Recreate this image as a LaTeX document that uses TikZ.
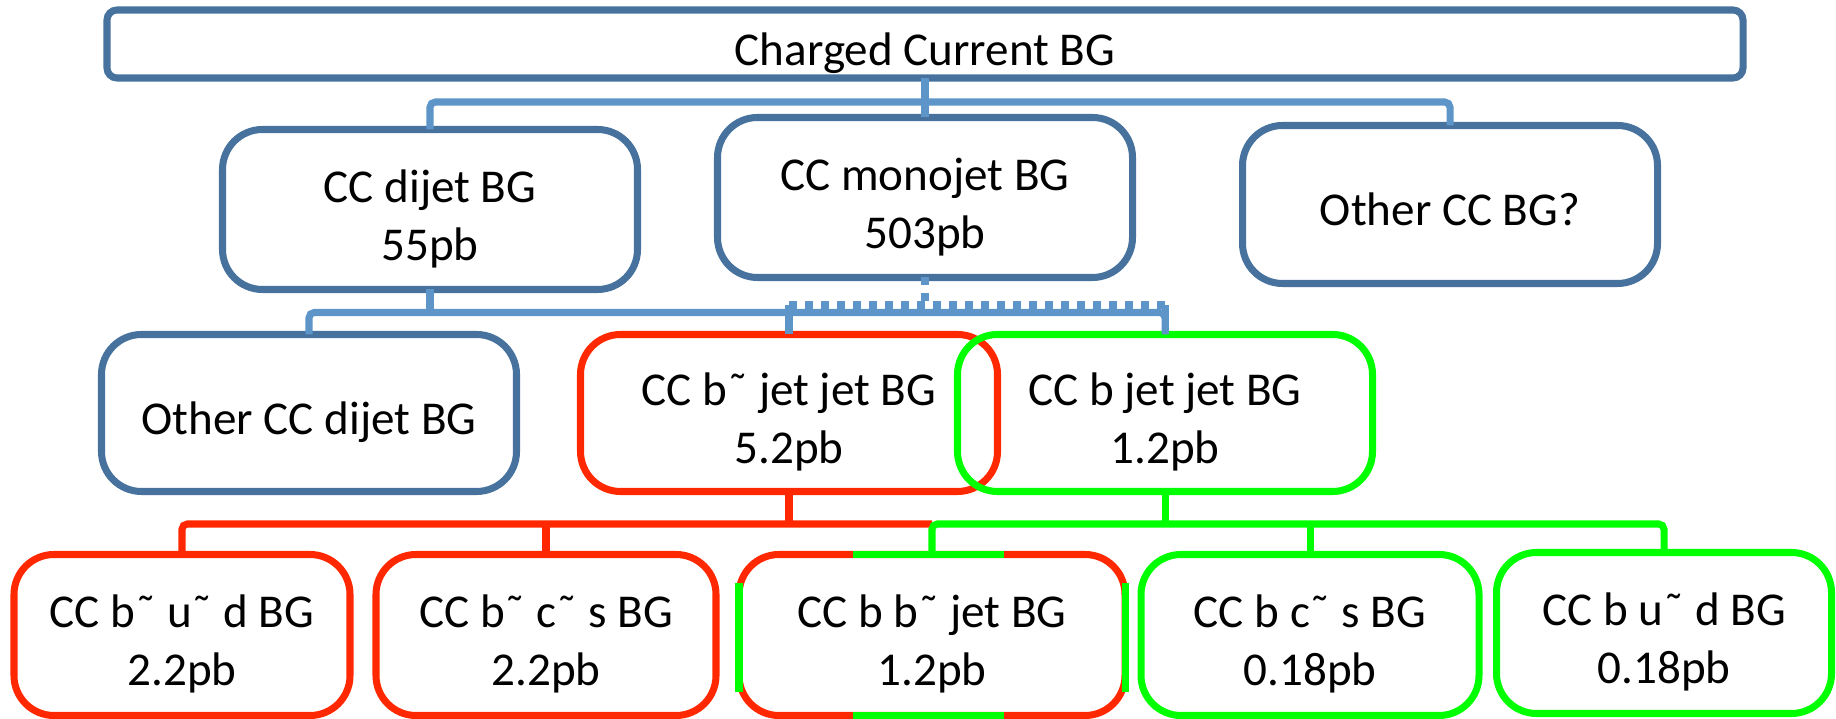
\documentclass[tikz,border=0pt]{standalone}
\usepackage{fontspec}
\setmainfont{Carlito}
\usetikzlibrary{calc}
\definecolor{myblue1}{RGB}{70,114,157}
\definecolor{myblue2}{RGB}{93,149,201}
\definecolor{myred}{RGB}{255,40,0}
\definecolor{mygreen}{RGB}{0,255,0}
\tikzset{box/.style={draw=myblue1, line width=2pt, rounded corners=0.4cm, align=center,
    inner sep=0pt, outer sep=0pt, font=\fontsize{13.4}{16.5}\selectfont,
    text height=29pt, text depth=0pt},
  oneline/.style={text height=12.1pt, text depth=0pt},
  row2/.style={box, minimum width=4.15cm, minimum height=1.6cm},
  row4/.style={box, minimum height=1.61cm},
  bus/.style={draw=myblue2, line width=2pt, rounded corners=1.5pt},
  busdash/.style={bus, dash pattern=on 0.08cm off 0.08cm},
  redbus/.style={draw=myred, line width=2pt, rounded corners=1.5pt},
  greenbus/.style={draw=mygreen, line width=2pt, rounded corners=1.5pt}}

\begin{document}
\begin{tikzpicture}
\useasboundingbox (0,0) rectangle (18.36,7.19);
\node[box, oneline, rounded corners=0.1cm, minimum width=16.36cm, minimum height=0.68cm] (cc) at (9.25,6.75) {Charged Current BG};
% second row
\node[row2] (dijet) at (4.30,5.095) {CC dijet BG\\55pb};
\node[row2] (mono) at (9.25,5.215) {CC monojet BG\\503pb};
\node[row2, oneline, minimum height=1.58cm] (othercc) at (14.50,5.145) {Other CC BG?};
% third row
\node[row2, oneline, minimum height=1.57cm] (otherdijet) at (3.09,3.06) {Other CC dijet BG};
\node[row2, draw=myred, minimum width=4.17cm, minimum height=1.57cm] (bbarjj) at (7.89,3.06) {CC b˜ jet jet BG\\5.2pb};
\node[row2, draw=mygreen, minimum height=1.57cm] (bjj) at (11.65,3.06) {CC b jet jet BG\\1.2pb};
% fourth row
\node[row4, draw=myred, minimum width=3.36cm] (bubd) at (1.82,0.84) {CC b˜ u˜ d BG\\2.2pb};
\node[row4, draw=myred, minimum width=3.40cm] (bcbs) at (5.46,0.84) {CC b˜ c˜ s BG\\2.2pb};
\node[row4, draw=myred, minimum width=3.86cm] (bbbj) at (9.32,0.84) {CC b b˜ jet BG\\1.2pb};
\node[row4, draw=mygreen, minimum width=3.38cm] (bcs) at (13.10,0.84) {CC b c˜ s BG\\0.18pb};
\node[row4, draw=mygreen, minimum width=3.35cm] (bud) at (16.64,0.86) {CC b u˜ d BG\\0.18pb};
% green parts of the mixed box
\draw[mygreen, line width=2pt] ([xshift=-0.79cm]bbbj.north) -- ([xshift=0.72cm]bbbj.north);
\draw[mygreen, line width=2pt] ([xshift=-0.79cm]bbbj.south) -- ([xshift=0.72cm]bbbj.south);
\draw[mygreen, line width=2pt] ([yshift=0.52cm]bbbj.west) -- ([yshift=-0.57cm]bbbj.west);
\draw[mygreen, line width=2pt] ([yshift=0.52cm]bbbj.east) -- ([yshift=-0.57cm]bbbj.east);

% top level
\draw[bus] (cc.south) -- (mono.north);
\draw[bus] (dijet.north) |- ([yshift=-0.24cm]cc.south) -| (othercc.north);
% dijet and monojet
\coordinate (bus2) at ([yshift=-0.23cm]dijet.south);
\coordinate (dots) at ([yshift=-0.275cm]mono.south);
\draw[bus] (dijet.south) -- (bus2);
\draw[bus] (otherdijet.north) |- (bus2) -| (bjj.north);
\draw[bus] (bbarjj.north) -- (bbarjj.north |- dots);
\draw[bus] (bjj.north) -- (bjj.north |- dots);
\draw[busdash] (mono.south) -- (dots);
\draw[busdash] (bbarjj.north |- dots) -- (bjj.north |- dots);
% b bar and b
\coordinate (bus3) at ([yshift=-0.325cm]bbarjj.south);
\draw[redbus] (bbarjj.south) -- (bus3);
\draw[redbus] (bubd.north) |- (bus3 -| bbbj.north);
\draw[redbus] (bcbs.north) -- (bcbs.north |- bus3);
\draw[greenbus] (bjj.south) -- (bjj.south |- bus3);
\draw[greenbus] (bbbj.north) |- (bus3 -| bud.north) -- (bud.north);
\draw[greenbus] (bcs.north) -- (bcs.north |- bus3);
\end{tikzpicture}
\end{document}
